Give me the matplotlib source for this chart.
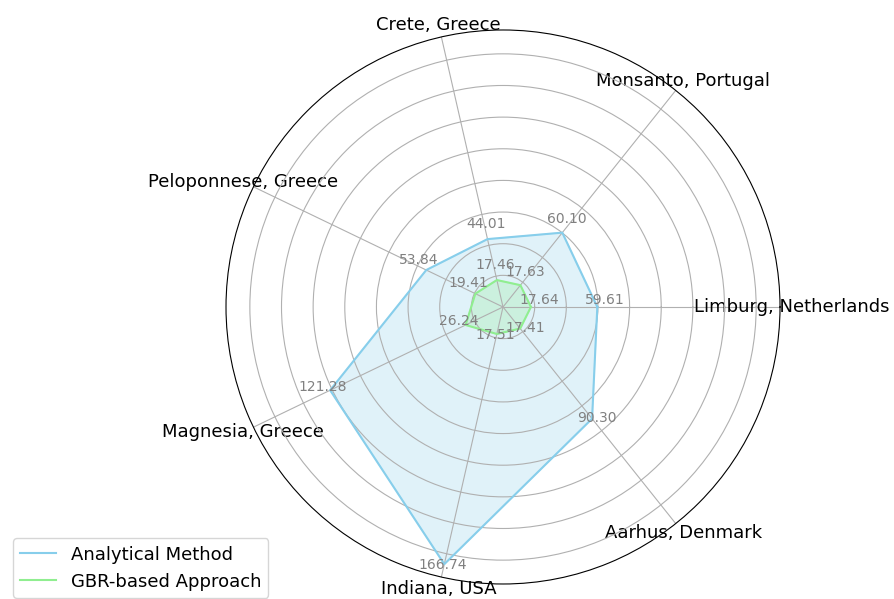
import numpy as np
import matplotlib.pyplot as plt

# sites and error values for the two methods
categories = ['Limburg, Netherlands', 'Monsanto, Portugal', 'Crete, Greece',
              'Peloponnese, Greece', 'Magnesia, Greece', 'Indiana, USA',
              'Aarhus, Denmark']
analytical = [59.61, 60.10, 44.01, 53.84, 121.28, 166.74, 90.30]
gbr = [17.64, 17.63, 17.46, 19.41, 26.24, 17.51, 17.41]
series_names = ['Analytical Method', 'GBR-based Approach']
series_colors = ['skyblue', 'lightgreen']
rticks = [20, 40, 60, 80, 100, 120, 140, 160]

N = len(categories)
angles = np.linspace(0, 2 * np.pi, N, endpoint=False).tolist()
angles_closed = angles + angles[:1]

fig = plt.figure(figsize=(8.94, 5.99), dpi=100)
ax = fig.add_axes([0.2528, 0.025, 0.6197, 0.925], polar=True)

for vals, name, color in zip([analytical, gbr], series_names, series_colors):
    v = vals + vals[:1]
    ax.plot(angles_closed, v, color=color, linewidth=1.5, label=name)
    ax.fill(angles_closed, v, color=color, alpha=0.25)
    for a, val in zip(angles, vals):
        ax.text(a, val + 5, f'{val:.2f}', ha='center', va='bottom',
                color='gray', fontsize=10)

ax.set_xticks(angles)
ax.set_xticklabels(categories, fontsize=13)
ax.tick_params(axis='x', pad=-2)
ax.set_yticks(rticks)
ax.set_yticklabels([])
ax.set_ylim(0, max(analytical) * 1.05)

fig.legend(loc='lower left', bbox_to_anchor=(0.0145, 0.002),
           bbox_transform=fig.transFigure, borderaxespad=0, fontsize=13)

fig.savefig('out.png', dpi=100)
